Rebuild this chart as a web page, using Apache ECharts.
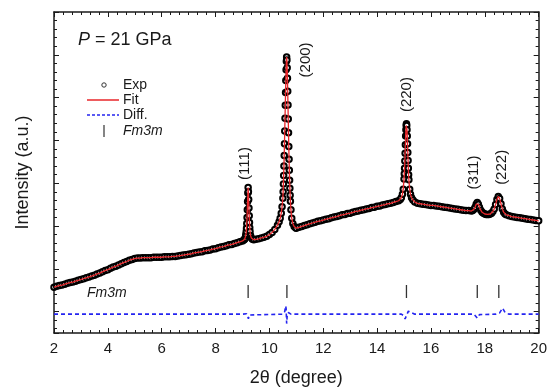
<!DOCTYPE html>
<html>
<head>
<meta charset="utf-8">
<script src="https://cdn.jsdelivr.net/npm/echarts@6/dist/echarts.min.js"></script>
<style>
  html, body { margin: 0; padding: 0; background: #fff; }
  #main { width: 550px; height: 392px; }
</style>
</head>
<body>
<div id="main"></div>
<script>
// 2theta (degree) of the measured points
var twoTheta = [
  2.0, 2.1, 2.2, 2.3, 2.4, 2.5, 2.6, 2.7, 2.8, 2.9,
  3.0, 3.1, 3.2, 3.3, 3.4, 3.5, 3.6, 3.7, 3.8, 3.9,
  4.0, 4.1, 4.2, 4.3, 4.4, 4.5, 4.6, 4.7, 4.8, 4.9,
  5.0, 5.1, 5.2, 5.3, 5.4, 5.5, 5.6, 5.7, 5.8, 5.9,
  6.0, 6.1, 6.2, 6.3, 6.4, 6.5, 6.6, 6.7, 6.8, 6.9,
  7.0, 7.1, 7.2, 7.3, 7.4, 7.5, 7.6, 7.7, 7.8, 7.9,
  8.0, 8.1, 8.2, 8.3, 8.4, 8.5, 8.6, 8.7, 8.8, 8.9,
  9.0, 9.05, 9.08, 9.10, 9.12, 9.13, 9.14, 9.15, 9.16, 9.17, 9.18, 9.19, 9.20,
  9.21, 9.22, 9.23, 9.24, 9.25, 9.26, 9.27, 9.28, 9.30, 9.33, 9.37, 9.42, 9.5,
  9.6, 9.7, 9.8, 9.9, 10.0, 10.1, 10.2, 10.3, 10.36, 10.40, 10.44, 10.47,
  10.50, 10.51, 10.52, 10.53, 10.54, 10.55, 10.56, 10.57, 10.58, 10.59, 10.60,
  10.61, 10.62, 10.63, 10.64, 10.65, 10.66, 10.67, 10.68, 10.69, 10.70, 10.71,
  10.72, 10.73, 10.74, 10.75, 10.76, 10.77, 10.78, 10.80, 10.83, 10.87, 10.92, 10.97,
  11.0, 11.1, 11.2, 11.3, 11.4, 11.5, 11.6, 11.7, 11.8, 11.9,
  12.0, 12.1, 12.2, 12.3, 12.4, 12.5, 12.6, 12.7, 12.8, 12.9,
  13.0, 13.1, 13.2, 13.3, 13.4, 13.5, 13.6, 13.7, 13.8, 13.9,
  14.0, 14.1, 14.2, 14.3, 14.4, 14.5, 14.6, 14.7, 14.8, 14.86, 14.90, 14.94, 14.97,
  15.00, 15.01, 15.02, 15.03, 15.04, 15.05, 15.06, 15.07, 15.08, 15.09, 15.10,
  15.11, 15.12, 15.13, 15.14, 15.15, 15.16, 15.17, 15.18, 15.21, 15.24, 15.28, 15.33, 15.40,
  15.5, 15.6, 15.7, 15.8, 15.9, 16.0, 16.1, 16.2, 16.3, 16.4,
  16.5, 16.6, 16.7, 16.8, 16.9, 17.0, 17.1, 17.2, 17.3, 17.4, 17.5,
  17.55, 17.60, 17.64, 17.68, 17.72, 17.76, 17.80, 17.85, 17.90, 17.95,
  18.00, 18.05, 18.10, 18.15, 18.20, 18.25, 18.30, 18.35, 18.40, 18.45,
  18.50, 18.55, 18.60, 18.65, 18.70, 18.75, 18.80, 18.90,
  19.0, 19.1, 19.2, 19.3, 19.4, 19.5, 19.6, 19.7, 19.8, 19.9, 20.0
];

var expInt = [
  1.07, 1.09, 1.11, 1.12, 1.14, 1.16, 1.18, 1.19, 1.21, 1.23,
  1.25, 1.27, 1.29, 1.31, 1.33, 1.35, 1.38, 1.40, 1.43, 1.46,
  1.48, 1.51, 1.54, 1.56, 1.59, 1.62, 1.65, 1.67, 1.70, 1.72,
  1.74, 1.75, 1.75, 1.76, 1.76, 1.76, 1.76, 1.77, 1.77, 1.77,
  1.77, 1.78, 1.78, 1.78, 1.79, 1.79, 1.80, 1.81, 1.82, 1.83,
  1.84, 1.85, 1.87, 1.88, 1.89, 1.90, 1.92, 1.93, 1.94, 1.96,
  1.97, 1.99, 2.01, 2.02, 2.04, 2.06, 2.07, 2.09, 2.11, 2.13,
  2.15, 2.17, 2.19, 2.22, 2.27, 2.31, 2.37, 2.45, 2.56, 2.70, 2.88, 3.07, 3.27,
  3.40, 3.30, 3.12, 2.92, 2.74, 2.58, 2.46, 2.37, 2.28, 2.22, 2.19, 2.18, 2.19,
  2.20, 2.22, 2.24, 2.26, 2.30, 2.35, 2.42, 2.52, 2.60, 2.68, 2.80, 2.95,
  3.15, 3.30, 3.48, 3.68, 3.90, 4.15, 4.42, 4.72, 5.02, 5.32, 5.62,
  5.90, 6.15, 6.35, 6.45, 6.38, 6.20, 5.95, 5.65, 5.33, 5.00, 4.68,
  4.36, 4.06, 3.80, 3.57, 3.38, 3.22, 3.08, 2.88, 2.68, 2.56, 2.49, 2.46,
  2.45, 2.47, 2.49, 2.51, 2.53, 2.55, 2.57, 2.59, 2.61, 2.62,
  2.64, 2.66, 2.67, 2.69, 2.71, 2.72, 2.74, 2.76, 2.77, 2.79,
  2.80, 2.82, 2.84, 2.85, 2.87, 2.88, 2.90, 2.91, 2.93, 2.94,
  2.96, 2.97, 2.99, 3.00, 3.02, 3.03, 3.05, 3.07, 3.09, 3.12, 3.16, 3.24, 3.36,
  3.60, 3.72, 3.85, 4.02, 4.20, 4.40, 4.60, 4.75, 4.85, 4.89, 4.85,
  4.75, 4.60, 4.42, 4.22, 4.03, 3.85, 3.70, 3.58, 3.36, 3.24, 3.16, 3.11, 3.06,
  3.03, 3.02, 3.01, 3.00, 2.99, 2.98, 2.98, 2.97, 2.96, 2.95,
  2.94, 2.93, 2.92, 2.91, 2.90, 2.89, 2.88, 2.87, 2.86, 2.86, 2.85,
  2.86, 2.89, 2.94, 3.01, 3.05, 3.01, 2.94, 2.87, 2.82, 2.80,
  2.78, 2.77, 2.77, 2.77, 2.78, 2.80, 2.84, 2.90, 3.00, 3.12,
  3.19, 3.14, 3.02, 2.90, 2.82, 2.78, 2.76, 2.74,
  2.72, 2.71, 2.70, 2.69, 2.68, 2.67, 2.66, 2.65, 2.64, 2.63, 2.62
];

// the fit overlies the measured points at this scale
var fitInt = expInt;

// difference curve (offset below the pattern)
var diffTheta = [2, 9.0, 9.15, 9.19, 9.22, 9.25, 9.3,
  10.5, 10.57, 10.6, 10.62, 10.64, 10.66, 10.7, 10.8,
  14.9, 15.0, 15.04, 15.1, 15.16, 15.22, 15.4,
  17.6, 17.72, 17.8,
  18.4, 18.55, 18.66, 18.75, 18.9, 20];
var diffInt = [0.44, 0.44, 0.45, 0.40, 0.33, 0.42, 0.44,
  0.44, 0.50, 0.63, 0.58, 0.22, 0.40, 0.48, 0.44,
  0.44, 0.40, 0.33, 0.42, 0.51, 0.47, 0.44,
  0.44, 0.35, 0.43,
  0.44, 0.47, 0.58, 0.48, 0.44, 0.44];

// Fm3m reflection positions and their labels
var hklPos = [9.21, 10.65, 15.09, 17.72, 18.52];
var hklTickY = 0.97;
var hklNames = ['(111)', '(200)', '(220)', '(311)', '(222)'];
var hklLabelX = [9.10, 11.35, 15.10, 17.60, 18.62];
var hklLabelY = [3.96, 6.38, 5.57, 3.75, 3.87];

var font = 'Liberation Sans, Arial, sans-serif';
var ink = '#1a1a1a';

function pairs(xs, ys) {
  return xs.map(function (x, i) { return [x, ys[i]]; });
}

var tickAxis = function (pos) {
  return {
    type: 'value', position: pos, inverse: true,
    min: 0, max: 7.5, interval: 1,
    axisLine: { show: true, lineStyle: { color: ink, width: 1.5 } },
    axisTick: { show: true, inside: true, length: 5, lineStyle: { color: ink } },
    minorTick: { show: true, splitNumber: 5, length: 3, lineStyle: { color: ink } },
    axisLabel: { show: false },
    splitLine: { show: false }
  };
};

var xAxisBase = function (pos, labels) {
  return {
    type: 'value', position: pos, min: 2, max: 20, interval: 2,
    axisLine: { show: true, onZero: false, lineStyle: { color: ink, width: 1.5 } },
    axisTick: { show: true, inside: true, length: 5, lineStyle: { color: ink } },
    minorTick: { show: true, splitNumber: 6, length: 3, lineStyle: { color: ink } },
    axisLabel: { show: labels, color: ink, fontSize: 15, fontFamily: font, margin: 8 },
    splitLine: { show: false }
  };
};

var xBottom = xAxisBase('bottom', true);
xBottom.name = '2θ (degree)';
xBottom.nameLocation = 'middle';
xBottom.nameGap = 36;
xBottom.nameTextStyle = { color: ink, fontSize: 18, fontFamily: font };

var yLeft = tickAxis('left');
yLeft.name = 'Intensity (a.u.)';
yLeft.nameLocation = 'middle';
yLeft.nameGap = 22;
yLeft.nameTextStyle = { color: ink, fontSize: 18, fontFamily: font };

var myChart = echarts.init(document.getElementById('main'), null, { renderer: 'canvas' });

myChart.setOption({
  animation: false,
  backgroundColor: '#fff',
  grid: { left: 54, right: 7, top: 12, bottom: 57 },
  xAxis: [xBottom, xAxisBase('top', false)],
  yAxis: [
    { type: 'value', min: 0, max: 7.5, show: false },
    yLeft,
    tickAxis('right')
  ],
  series: [
    {
      name: 'Exp', type: 'scatter', xAxisIndex: 0, yAxisIndex: 0,
      data: pairs(twoTheta, expInt),
      symbol: 'emptyCircle', symbolSize: 5.5,
      itemStyle: { color: '#000', borderColor: '#000', borderWidth: 1.3, opacity: 1 },
      z: 2
    },
    {
      name: 'Fit', type: 'line', xAxisIndex: 0, yAxisIndex: 0,
      data: pairs(twoTheta, fitInt),
      showSymbol: false,
      lineStyle: { color: '#e8262a', width: 1.3 },
      z: 3
    },
    {
      name: 'Diff.', type: 'line', xAxisIndex: 0, yAxisIndex: 0,
      data: pairs(diffTheta, diffInt),
      showSymbol: false,
      lineStyle: { color: '#2424f0', width: 1.6, type: [4, 3] },
      z: 3
    },
    {
      name: 'Fm3m', type: 'scatter', xAxisIndex: 0, yAxisIndex: 0,
      data: hklPos.map(function (x) { return [x, hklTickY]; }),
      symbol: 'rect', symbolSize: [1.3, 13],
      itemStyle: { color: '#333', opacity: 1 },
      z: 3
    },
    {
      name: 'hkl', type: 'scatter', xAxisIndex: 0, yAxisIndex: 0,
      data: pairs(hklLabelX, hklLabelY).map(function (p, i) {
        return { value: p, name: hklNames[i] };
      }),
      symbolSize: 0,
      itemStyle: { opacity: 1 },
      label: {
        show: true, position: 'inside', rotate: 90,
        formatter: '{b}', color: ink, fontSize: 15, fontFamily: font, opacity: 1
      },
      z: 4
    }
  ],
  graphic: [
    {
      type: 'text', left: 78, top: 31,
      style: {
        text: '{i|P} = 21 GPa', fill: ink, fontSize: 18, fontFamily: font,
        rich: { i: { fontStyle: 'italic', fontSize: 18, fontFamily: font, fill: ink } }
      }
    },
    { type: 'circle', shape: { cx: 104, cy: 85, r: 2.2 }, style: { fill: '#fff', stroke: '#333', lineWidth: 1 } },
    { type: 'text', left: 123, top: 78, style: { text: 'Exp', fill: ink, fontSize: 14, fontFamily: font } },
    { type: 'line', shape: { x1: 87, y1: 100, x2: 119, y2: 100 }, style: { stroke: '#e8262a', lineWidth: 1.5 } },
    { type: 'text', left: 123, top: 93, style: { text: 'Fit', fill: ink, fontSize: 14, fontFamily: font } },
    { type: 'line', shape: { x1: 87, y1: 115, x2: 119, y2: 115 }, style: { stroke: '#2424f0', lineWidth: 1.5, lineDash: [3, 2] } },
    { type: 'text', left: 123, top: 108, style: { text: 'Diff.', fill: ink, fontSize: 14, fontFamily: font } },
    { type: 'line', shape: { x1: 104, y1: 125, x2: 104, y2: 137 }, style: { stroke: '#333', lineWidth: 1.2 } },
    { type: 'text', left: 123, top: 124, style: { text: 'Fm3m', fill: ink, fontSize: 14, fontStyle: 'italic', fontFamily: font } },
    { type: 'text', left: 87, top: 286, style: { text: 'Fm3m', fill: ink, fontSize: 14, fontStyle: 'italic', fontFamily: font } }
  ]
});
</script>
</body>
</html>
